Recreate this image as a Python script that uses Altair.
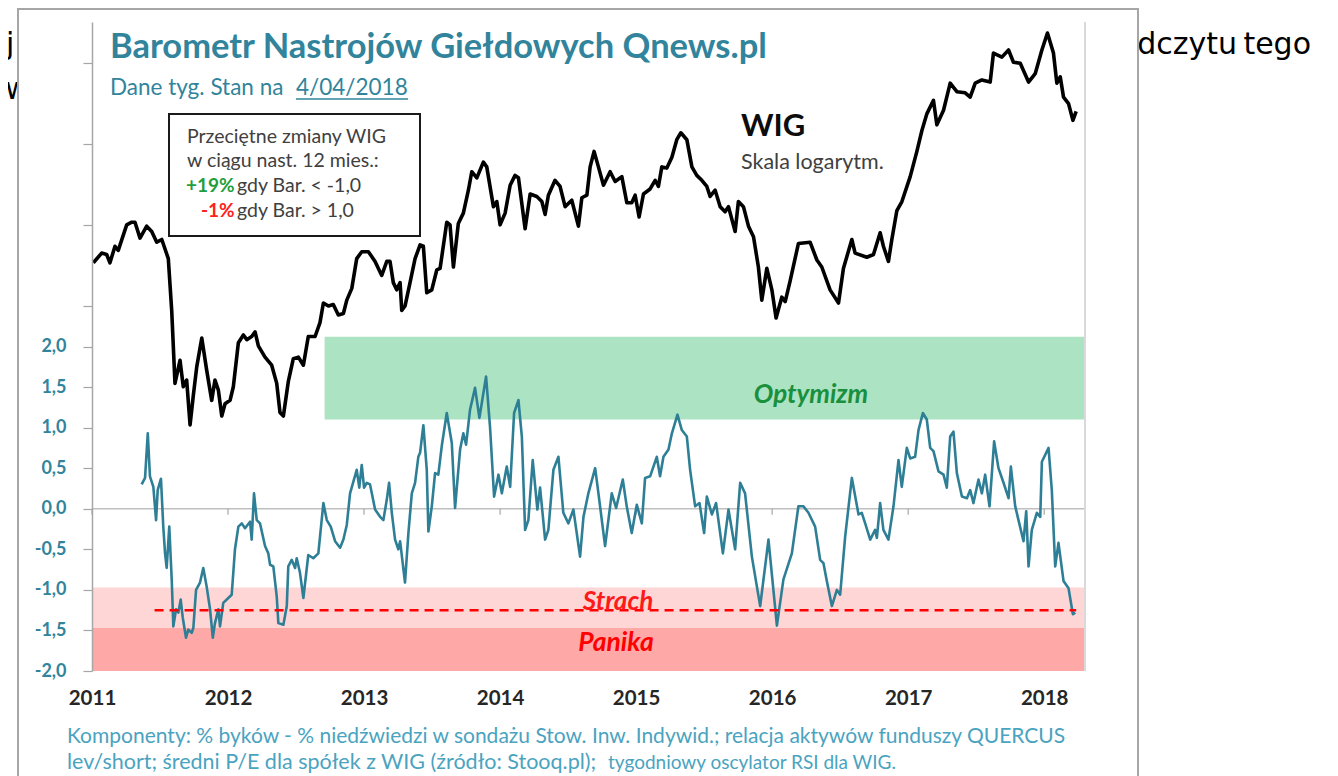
import altair as alt
import pandas as pd

# ---------------- data ----------------
YEARS = [2011, 2012, 2013, 2014, 2015, 2016, 2017, 2018]
Y_TICKS = [-2, -1.5, -1, -0.5, 0, 0.5, 1, 1.5, 2, 2.5, 3.5, 4.5, 5.5]

WIG_T = [
    2011.010, 2011.071, 2011.108, 2011.132, 2011.169, 2011.193, 2011.255, 2011.292, 2011.316, 2011.353,
    2011.402, 2011.439, 2011.476, 2011.513, 2011.561, 2011.586, 2011.610, 2011.647, 2011.671, 2011.696,
    2011.721, 2011.745, 2011.770, 2011.807, 2011.843, 2011.880, 2011.904, 2011.929, 2011.954, 2011.978,
    2012.015, 2012.039, 2012.076, 2012.113, 2012.138, 2012.174, 2012.199, 2012.223, 2012.272, 2012.321,
    2012.358, 2012.382, 2012.407, 2012.443, 2012.480, 2012.517, 2012.554, 2012.590, 2012.640, 2012.676,
    2012.701, 2012.738, 2012.774, 2012.811, 2012.848, 2012.873, 2012.910, 2012.946, 2012.983, 2013.032,
    2013.081, 2013.130, 2013.167, 2013.191, 2013.215, 2013.240, 2013.265, 2013.277, 2013.301, 2013.338,
    2013.375, 2013.412, 2013.436, 2013.461, 2013.498, 2013.535, 2013.559, 2013.608, 2013.632, 2013.657,
    2013.693, 2013.730, 2013.767, 2013.792, 2013.829, 2013.877, 2013.902, 2013.951, 2013.976, 2014.000,
    2014.037, 2014.074, 2014.110, 2014.135, 2014.184, 2014.221, 2014.270, 2014.307, 2014.331, 2014.355,
    2014.404, 2014.441, 2014.478, 2014.527, 2014.576, 2014.601, 2014.638, 2014.662, 2014.691, 2014.723,
    2014.760, 2014.809, 2014.846, 2014.895, 2014.932, 2014.968, 2014.993, 2015.022, 2015.054, 2015.103,
    2015.140, 2015.164, 2015.189, 2015.226, 2015.263, 2015.299, 2015.329, 2015.373, 2015.410, 2015.446,
    2015.483, 2015.520, 2015.544, 2015.581, 2015.618, 2015.654, 2015.679, 2015.728, 2015.752, 2015.789,
    2015.826, 2015.863, 2015.899, 2015.924, 2015.961, 2015.998, 2016.029, 2016.071, 2016.096, 2016.132,
    2016.193, 2016.279, 2016.329, 2016.365, 2016.426, 2016.488, 2016.524, 2016.586, 2016.610, 2016.696,
    2016.745, 2016.794, 2016.818, 2016.855, 2016.880, 2016.917, 2016.954, 2017.015, 2017.064, 2017.101,
    2017.138, 2017.186, 2017.211, 2017.260, 2017.309, 2017.358, 2017.419, 2017.456, 2017.493, 2017.542,
    2017.603, 2017.627, 2017.689, 2017.738, 2017.774, 2017.824, 2017.885, 2017.934, 2017.983, 2018.024,
    2018.068, 2018.093, 2018.118, 2018.142, 2018.179, 2018.211, 2018.235,
]
WIG_V = [
    47300, 48000, 47900, 47300, 48500, 48200, 50100, 50300, 50300, 49100,
    50000, 49600, 48800, 49000, 47600, 44000, 39400, 40800, 39200, 39600,
    37000, 38700, 40400, 42200, 40200, 38400, 39600, 39000, 37500, 38200,
    38400, 39200, 41900, 42400, 42100, 42300, 42600, 41700, 41000, 40500,
    39400, 37700, 37500, 39500, 40900, 41000, 40500, 42300, 42300, 43200,
    44500, 44300, 44400, 43700, 43800, 44700, 45500, 47600, 48100, 48100,
    47400, 46400, 47400, 47400, 45900, 45400, 45900, 44000, 44300, 45900,
    47600, 48600, 48500, 45200, 45400, 46800, 46900, 50300, 50100, 47000,
    50200, 51000, 52800, 54300, 53800, 55100, 54700, 51500, 51900, 50100,
    51000, 53200, 54000, 53800, 49800, 52500, 52300, 51900, 50900, 52400,
    53600, 53100, 51500, 52000, 50000, 52200, 52400, 54700, 56000, 54700,
    53200, 54300, 53500, 53900, 51800, 51800, 52400, 50700, 52500, 52900,
    53600, 53100, 54700, 54600, 55500, 57000, 57600, 57000, 54700, 54000,
    53600, 53100, 52300, 52800, 51500, 51100, 51500, 49600, 51900, 51500,
    50000, 49200, 47000, 44700, 46900, 45400, 43500, 44900, 44600, 46000,
    48700, 48800, 47500, 47000, 45400, 44500, 46900, 49000, 48000, 47700,
    47900, 49500, 48500, 47400, 49000, 51200, 51900, 53900, 56000, 57800,
    59300, 60500, 58300, 59600, 62100, 61300, 61200, 60800, 62100, 62400,
    62200, 65000, 64600, 65300, 64100, 64000, 62200, 63000, 65300, 67000,
    65000, 62100, 62700, 60800, 60200, 58700, 59500,
]

BARO_T = [
    2011.365, 2011.390, 2011.410, 2011.426, 2011.451, 2011.471, 2011.483, 2011.507, 2011.524, 2011.537,
    2011.549, 2011.568, 2011.586, 2011.598, 2011.618, 2011.635, 2011.652, 2011.667, 2011.691, 2011.708,
    2011.733, 2011.745, 2011.765, 2011.794, 2011.818, 2011.843, 2011.868, 2011.888, 2011.904, 2011.929,
    2011.941, 2011.965, 2012.002, 2012.027, 2012.051, 2012.076, 2012.101, 2012.125, 2012.162, 2012.174,
    2012.191, 2012.211, 2012.235, 2012.272, 2012.296, 2012.309, 2012.333, 2012.358, 2012.370, 2012.407,
    2012.432, 2012.443, 2012.468, 2012.493, 2012.505, 2012.529, 2012.554, 2012.590, 2012.627, 2012.664,
    2012.701, 2012.726, 2012.755, 2012.787, 2012.824, 2012.848, 2012.873, 2012.897, 2012.946, 2012.965,
    2012.983, 2013.000, 2013.020, 2013.044, 2013.081, 2013.118, 2013.142, 2013.167, 2013.184, 2013.204,
    2013.228, 2013.252, 2013.265, 2013.301, 2013.326, 2013.351, 2013.375, 2013.399, 2013.412, 2013.436,
    2013.461, 2013.473, 2013.498, 2013.522, 2013.546, 2013.571, 2013.608, 2013.645, 2013.669, 2013.706,
    2013.730, 2013.750, 2013.779, 2013.816, 2013.848, 2013.897, 2013.926, 2013.956, 2013.988, 2014.013,
    2014.049, 2014.074, 2014.103, 2014.135, 2014.160, 2014.184, 2014.208, 2014.240, 2014.274, 2014.294,
    2014.331, 2014.355, 2014.392, 2014.429, 2014.465, 2014.502, 2014.539, 2014.588, 2014.613, 2014.649,
    2014.699, 2014.723, 2014.772, 2014.821, 2014.853, 2014.902, 2014.931, 2014.968, 2015.005, 2015.042,
    2015.066, 2015.103, 2015.152, 2015.176, 2015.201, 2015.238, 2015.263, 2015.304, 2015.336, 2015.373,
    2015.397, 2015.434, 2015.466, 2015.500, 2015.520, 2015.557, 2015.588, 2015.638, 2015.679, 2015.728,
    2015.765, 2015.801, 2015.851, 2015.912, 2015.973, 2016.035, 2016.083, 2016.145, 2016.193, 2016.230,
    2016.267, 2016.316, 2016.353, 2016.377, 2016.402, 2016.439, 2016.476, 2016.500, 2016.537, 2016.586,
    2016.635, 2016.659, 2016.684, 2016.721, 2016.757, 2016.770, 2016.794, 2016.818, 2016.855, 2016.892,
    2016.929, 2016.953, 2016.990, 2017.015, 2017.051, 2017.076, 2017.108, 2017.137, 2017.162, 2017.186,
    2017.223, 2017.260, 2017.284, 2017.309, 2017.333, 2017.358, 2017.395, 2017.432, 2017.456, 2017.480,
    2017.517, 2017.542, 2017.566, 2017.598, 2017.632, 2017.664, 2017.701, 2017.738, 2017.755, 2017.787,
    2017.811, 2017.848, 2017.868, 2017.885, 2017.909, 2017.946, 2017.971, 2017.983, 2018.032, 2018.056,
    2018.081, 2018.105, 2018.142, 2018.179, 2018.211, 2018.228,
]
BARO_V = [
    0.30, 0.38, 0.93, 0.40, 0.27, -0.14, 0.23, 0.37, -0.22, -0.55,
    -0.73, -0.22, -0.87, -1.45, -1.24, -1.28, -1.12, -1.34, -1.59, -1.49,
    -1.53, -1.47, -1.00, -0.91, -0.73, -0.96, -1.24, -1.59, -1.41, -1.24,
    -1.45, -1.16, -1.10, -1.06, -0.50, -0.22, -0.18, -0.24, -0.16, -0.38,
    0.19, -0.14, -0.18, -0.46, -0.55, -0.69, -0.71, -1.08, -1.41, -1.43,
    -1.20, -0.71, -0.63, -0.73, -0.61, -0.79, -1.10, -0.57, -0.61, -0.55,
    0.07, -0.14, -0.22, -0.40, -0.48, -0.38, -0.20, 0.19, 0.48, 0.26,
    0.54, 0.26, 0.32, 0.30, -0.01, -0.10, -0.14, 0.11, 0.32, -0.05,
    -0.38, -0.50, -0.40, -0.91, -0.30, 0.19, 0.32, 0.64, 0.69, 1.03,
    0.48, -0.28, 0.03, 0.44, 0.42, 0.77, 1.18, 0.81, 0.01, 0.73,
    0.93, 0.79, 1.22, 1.49, 1.12, 1.63, 1.01, 0.15, 0.42, 0.19,
    0.52, 0.27, 1.18, 1.34, 0.89, -0.26, -0.14, 0.60, -0.01, 0.26,
    -0.38, -0.26, 0.48, 0.64, -0.05, -0.18, -0.01, -0.59, -0.10, 0.19,
    0.50, 0.19, -0.46, 0.19, 0.01, 0.36, 0.03, -0.30, 0.05, -0.18,
    0.38, 0.40, 0.64, 0.40, 0.64, 0.73, 0.93, 1.16, 0.97, 0.89,
    0.48, 0.03, 0.07, -0.30, 0.15, -0.07, 0.07, -0.55, -0.01, -0.50,
    0.32, 0.19, -0.59, -1.20, -0.38, -1.44, -0.87, -0.55, 0.03, 0.03,
    -0.05, -0.22, -0.63, -0.67, -0.89, -1.20, -1.00, -1.06, -0.34, 0.38,
    -0.07, -0.05, -0.18, -0.38, -0.26, -0.36, 0.07, -0.26, -0.38, 0.03,
    0.60, 0.27, 0.75, 0.62, 0.64, 0.97, 1.18, 1.10, 0.75, 0.71,
    0.46, 0.42, 0.26, 0.89, 0.95, 0.44, 0.15, 0.13, 0.23, 0.07,
    0.36, 0.19, 0.42, 0.03, 0.83, 0.50, 0.32, 0.13, 0.52, 0.03,
    -0.14, -0.40, -0.03, -0.71, -0.26, -0.05, -0.10, 0.58, 0.75, 0.23,
    -0.71, -0.42, -0.89, -0.98, -1.30, -1.28,
]

ZONE_NAMES = ["Optymizm", "Strach", "Panika"]
ZONE_T0 = [2012.71, 2011.0, 2011.0]
ZONE_T1 = [2018.3, 2018.3, 2018.3]
ZONE_LO = [1.10, -1.47, -2.0]
ZONE_HI = [2.12, -0.97, -1.47]

THRESH_T = [2011.46, 2018.235]
THRESH_V = [-1.25, -1.25]

# ---------------- styling ----------------
TEAL = "#31849b"
FONT = "Lato"
W, H = 993, 649

XS = alt.Scale(domain=[2011, 2018.3], nice=False, zero=False)
YS = alt.Scale(domain=[-2, 6], nice=False, zero=False)
WS = alt.Scale(type="log", domain=[25480, 68130], nice=False)

XAXIS = alt.Axis(values=YEARS, format="d", title=None, grid=False, domain=False,
                 ticks=False, tickSize=0, labelFont=FONT, labelFontWeight="bold",
                 labelFontSize=20.5, labelColor="#262626", labelPadding=17,
                 labelFlush=False, labelOverlap=False, labelAngle=0, zindex=2)
YAXIS = alt.Axis(values=Y_TICKS, title=None, grid=False, domain=True,
                 domainColor="#a6a6a6", domainWidth=1.5, ticks=True,
                 tickColor="#a6a6a6", tickSize=9, tickWidth=1.2,
                 labelExpr="datum.value <= 2 ? (datum.value < 0 ? '-' : '') + replace(format(abs(datum.value), '.1f'), '.', ',') : ''",
                 labelFont=FONT, labelFontWeight="bold", labelFontSize=18,
                 labelColor=TEAL, labelPadding=17, labelOverlap=False, zindex=2)

dummy = pd.DataFrame({"k": [0]})


def label(text, x, y, size, color, weight="normal", style="normal",
          align="left", font=FONT):
    return alt.Chart(dummy).mark_text(
        text=text, align=align, baseline="middle", fontSize=size,
        fontWeight=weight, fontStyle=style, color=color, font=font
    ).encode(x=alt.value(x), y=alt.value(y))


# background article text (behind the picture)
bg = [
    label("odczytu", 1145, 23, 30, "#000000", align="right", font="DejaVu Sans"),
    label("tego", 1219, 23, 30, "#000000", align="right", font="DejaVu Sans"),
    label("j", -86, 23, 30, "#000000", font="DejaVu Sans"),
    label("w", -87, 68, 30, "#000000", font="DejaVu Sans"),
]

frame = alt.Chart(dummy).mark_rect(fill="white", stroke="#a6a6a6", strokeWidth=2).encode(
    x=alt.value(-74), x2=alt.value(1046), y=alt.value(-13), y2=alt.value(800))

# ---------------- main (barometer) layers ----------------
zones_df = pd.DataFrame({"zone": ZONE_NAMES, "t0": ZONE_T0, "t1": ZONE_T1,
                         "lo": ZONE_LO, "hi": ZONE_HI})
zones = alt.Chart(zones_df).mark_rect().encode(
    x=alt.X("t0:Q", scale=XS, axis=XAXIS), x2="t1:Q",
    y=alt.Y("lo:Q", scale=YS, axis=YAXIS), y2="hi:Q",
    color=alt.Color("zone:N", scale=alt.Scale(domain=ZONE_NAMES,
                    range=["#abe3c3", "#ffd6d6", "#ffa8a8"]), legend=None))

zero_df = pd.DataFrame({"t0": [2011.0], "t1": [2018.3], "v": [0.0]})
zero = alt.Chart(zero_df).mark_rule(color="#bfbfbf", strokeWidth=1.5).encode(
    x=alt.X("t0:Q", scale=XS, axis=XAXIS), x2="t1:Q",
    y=alt.Y("v:Q", scale=YS, axis=YAXIS))

yticks = alt.Chart(pd.DataFrame({"t": YEARS})).transform_calculate(
    a="0", b="-0.075").mark_rule(color="#a6a6a6", strokeWidth=1.2).encode(
    x=alt.X("t:Q", scale=XS, axis=XAXIS),
    y=alt.Y("a:Q", scale=YS, axis=YAXIS), y2="b:Q")

baro = alt.Chart(pd.DataFrame({"t": BARO_T, "v": BARO_V})).mark_line(
    color="#2e7f96", strokeWidth=2.6, strokeJoin="round").encode(
    x=alt.X("t:Q", scale=XS, axis=XAXIS),
    y=alt.Y("v:Q", scale=YS, axis=YAXIS))

thresh = alt.Chart(pd.DataFrame({"t": THRESH_T, "v": THRESH_V})).mark_line(
    color="#ff0000", strokeWidth=2.5, strokeDash=[9, 6]).encode(
    x=alt.X("t:Q", scale=XS, axis=XAXIS),
    y=alt.Y("v:Q", scale=YS, axis=YAXIS))

main = alt.layer(zones, zero, yticks, baro, thresh)

wig = alt.Chart(pd.DataFrame({"t": WIG_T, "w": WIG_V})).mark_line(
    color="#000000", strokeWidth=3.6, strokeJoin="round").encode(
    x=alt.X("t:Q", scale=XS, axis=XAXIS),
    y=alt.Y("w:Q", scale=WS, axis=None))

right_border = alt.Chart(dummy).mark_rule(color="#d9d9d9", strokeWidth=2).encode(
    x=alt.value(W), y=alt.value(0), y2=alt.value(H))

# ---------------- annotations ----------------
box = alt.Chart(dummy).mark_rect(fill="white", stroke="#1a1a1a", strokeWidth=2).encode(
    x=alt.value(77), x2=alt.value(328), y=alt.value(92), y2=alt.value(214))

underline = alt.Chart(dummy).mark_rule(color=TEAL, strokeWidth=1.5).encode(
    x=alt.value(204), x2=alt.value(316), y=alt.value(77))

texts = [
    label("Barometr Nastrojów Giełdowych Qnews.pl", 18, 26, 34.5, TEAL, weight="bold"),
    label("Dane tyg. Stan na", 18, 66, 22.5, TEAL),
    label("4/04/2018", 204, 66, 22.5, TEAL),
    label("Przeciętne zmiany WIG", 95, 115, 19.5, "#404040"),
    label("w ciągu nast. 12 mies.:", 95, 139, 19.5, "#404040"),
    label("+19%", 94, 164, 19, "#1e9e3c", weight="bold"),
    label("gdy Bar. < -1,0", 145, 164, 19.5, "#404040"),
    label("-1%", 109, 189, 19, "#ff2020", weight="bold"),
    label("gdy Bar. > 1,0", 145, 189, 19.5, "#404040"),
    label("WIG", 649, 105, 31, "#0d0d0d", weight="bold"),
    label("Skala logarytm.", 649, 141, 21.5, "#404040"),
    label("Optymizm", 719, 373, 26, "#1a8f3e", weight="bold", style="italic", align="center"),
    label("Strach", 526, 580, 26, "#ff1a1a", weight="bold", style="italic", align="center"),
    label("Panika", 524, 621, 26.5, "#ff0000", weight="bold", style="italic", align="center"),
    label("Komponenty: % byków - % niedźwiedzi w sondażu Stow. Inw. Indywid.; relacja aktywów funduszy QUERCUS",
          -25, 715, 21, "#4aa3bf"),
    label("lev/short; średni P/E dla spółek z WIG (źródło: Stooq.pl);", -25, 741, 21.5, "#4aa3bf"),
    label("tygodniowy oscylator RSI dla WIG.", 516, 741, 19, "#4aa3bf"),
]

chart = alt.layer(
    *bg, frame, main, wig, right_border, box, underline, *texts
).resolve_scale(y="independent").properties(
    width=W, height=H,
    padding={"left": 84, "top": 14, "right": 245, "bottom": 105},
    autosize=alt.AutoSizeParams(type="none"),
    background="white",
).configure_view(stroke=None)

chart.save("out.html", embed_options={"renderer": "svg", "actions": False})
